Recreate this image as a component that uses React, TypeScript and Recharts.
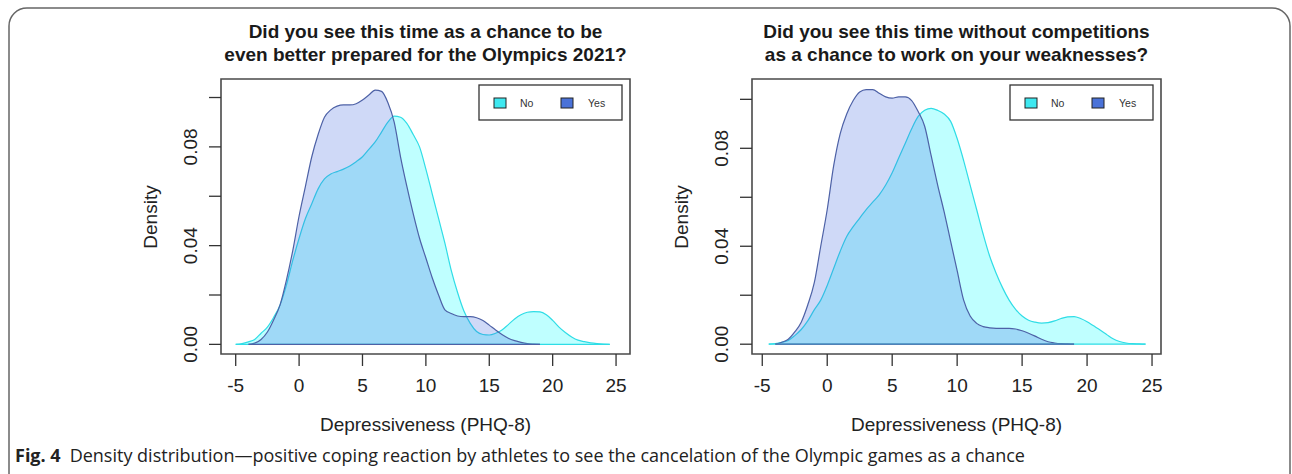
import React from "react";
import { AreaChart, Area, XAxis, YAxis, ReferenceArea, ReferenceLine } from "recharts";

const FONT = '"Liberation Sans", Arial, Helvetica, sans-serif';

// PHQ-8 grid the density curves were read on
const phq = [
  -5, -4.5, -4, -3.5, -3, -2.5, -2, -1.5, -1, -0.5,
  0, 0.5, 1, 1.5, 2, 2.5, 3, 3.5, 4, 4.5,
  5, 5.5, 6, 6.5, 7, 7.5, 8, 8.5, 9, 9.5,
  10, 10.5, 11, 11.5, 12, 12.5, 13, 13.5, 14, 14.5,
  15, 15.5, 16, 16.5, 17, 17.5, 18, 18.5, 19, 19.5,
  20, 20.5, 21, 21.5, 22, 22.5, 23, 23.5, 24, 24.5,
  25,
];

// left panel: "better prepared for the Olympics 2021?"
const preparedNo = [
  0, 0.0003, 0.001, 0.002, 0.0045, 0.007, 0.011, 0.016, 0.024, 0.034,
  0.043, 0.051, 0.057, 0.063, 0.067, 0.069, 0.07, 0.071, 0.0723, 0.074,
  0.076, 0.079, 0.082, 0.086, 0.09, 0.0925, 0.092, 0.0895, 0.085, 0.08,
  0.071, 0.061, 0.051, 0.041, 0.03, 0.021, 0.0135, 0.0085, 0.0052, 0.004,
  0.0038, 0.0045, 0.0058, 0.008, 0.0103, 0.012, 0.013, 0.0133, 0.0132, 0.012,
  0.0097, 0.007, 0.0048, 0.003, 0.0017, 0.0011, 0.0006, 0.0003, 0.0001, 0,
  null,
];
const preparedYes = [
  null, null, 0, 0.0005, 0.002, 0.005, 0.01, 0.016, 0.026, 0.038,
  0.052, 0.064, 0.076, 0.085, 0.092, 0.095, 0.0965, 0.097, 0.097, 0.0975,
  0.099, 0.101, 0.103, 0.1025, 0.098, 0.09, 0.076, 0.064, 0.053, 0.043,
  0.035, 0.027, 0.02, 0.014, 0.0125, 0.0115, 0.0112, 0.0112, 0.0108, 0.0097,
  0.0078, 0.0058, 0.004, 0.0025, 0.0015, 0.0008, 0.0003, 0.0001, 0, null,
  null, null, null, null, null, null, null, null, null, null,
  null,
];

// right panel: "work on your weaknesses?"
const weaknessNo = [
  null, 0, 0.0003, 0.0008, 0.0015, 0.0035, 0.006, 0.0095, 0.014, 0.018,
  0.024, 0.031, 0.038, 0.044, 0.048, 0.0515, 0.055, 0.058, 0.061, 0.065,
  0.07, 0.076, 0.082, 0.088, 0.093, 0.0955, 0.0963, 0.0955, 0.094, 0.091,
  0.084, 0.075, 0.065, 0.055, 0.045, 0.036, 0.029, 0.023, 0.018, 0.0142,
  0.0115, 0.0098, 0.009, 0.0086, 0.0088, 0.0095, 0.0105, 0.0112, 0.0113, 0.0105,
  0.0092, 0.0075, 0.0058, 0.004, 0.0022, 0.0011, 0.0005, 0.0002, 0.0001, 0,
  null,
];
const weaknessYes = [
  null, null, 0, 0.0008, 0.002, 0.005, 0.009, 0.016, 0.025, 0.04,
  0.055, 0.073, 0.086, 0.094, 0.0995, 0.103, 0.104, 0.104, 0.1025, 0.101,
  0.1005, 0.101, 0.101, 0.0995, 0.095, 0.089, 0.077, 0.065, 0.054, 0.042,
  0.03, 0.018, 0.0115, 0.0085, 0.0072, 0.0067, 0.0065, 0.0065, 0.0065, 0.0062,
  0.0055, 0.0045, 0.0033, 0.002, 0.001, 0.0005, 0.0002, 0.0001, 0, null,
  null, null, null, null, null, null, null, null, null, null,
  null,
];

const xTicks = [-5, 0, 5, 10, 15, 20, 25];
const yTicks = [0, 0.02, 0.04, 0.06, 0.08, 0.1];
const yLabelled = ["0.00", "0.04", "0.08"];

const NO_FILL = "#00ffff";
const NO_LINE = "#2fdde6";
const YES_FILL = "#4169e1";
const YES_LINE = "#4d61a6";

function extent(series: (number | null)[]) {
  const idx = series.map((v, i) => (v === null ? -1 : i)).filter((i) => i >= 0);
  return [phq[idx[0]], phq[idx[idx.length - 1]]];
}

function DensityTick(props: any) {
  const { x, y, payload } = props;
  const label = payload.value.toFixed(2);
  if (!yLabelled.includes(label)) return null;
  return (
    <text
      x={x - 10}
      y={y}
      transform={`rotate(-90, ${x - 10}, ${y})`}
      textAnchor="middle"
      fontSize={19}
      fontFamily={FONT}
      fill="#222"
    >
      {label}
    </text>
  );
}

interface PanelProps {
  left: number;
  title: string[];
  no: (number | null)[];
  yes: (number | null)[];
  xDomain: [number, number];
  yDomain: [number, number];
  marginLeft: number;
  marginRight: number;
}

function Panel({ left, title, no, yes, xDomain, yDomain, marginLeft, marginRight }: PanelProps) {
  const data = phq.map((x, i) => ({ x, no: no[i], yes: yes[i] }));
  const noExt = extent(no);
  const yesExt = extent(yes);
  const plotLeft = marginLeft + 60;
  const plotRight = 646 - marginRight;
  const cx = (plotLeft + plotRight) / 2;
  const lx = plotRight - 151;

  return (
    <div style={{ position: "absolute", left, top: 0, width: 646, height: 474 }}>
      <AreaChart
        width={646}
        height={474}
        data={data}
        margin={{ top: 79, right: marginRight, bottom: 80, left: marginLeft }}
      >
        <XAxis
          dataKey="x"
          type="number"
          domain={xDomain}
          ticks={xTicks}
          interval={0}
          allowDataOverflow
          height={40}
          tickSize={12}
          tickMargin={13}
          axisLine={false}
          tickLine={{ stroke: "#333", strokeWidth: 1.3 }}
          tick={{ fontSize: 19, fill: "#222", fontFamily: FONT }}
        />
        <YAxis
          type="number"
          domain={yDomain}
          ticks={yTicks}
          interval={0}
          allowDataOverflow
          width={60}
          tickSize={12}
          axisLine={false}
          tickLine={{ stroke: "#333", strokeWidth: 1.3 }}
          tick={<DensityTick />}
        />
        <Area
          type="monotone"
          dataKey="no"
          baseValue={0}
          fill={NO_FILL}
          fillOpacity={0.25}
          stroke={NO_LINE}
          strokeWidth={1.2}
          isAnimationActive={false}
        />
        <Area
          type="monotone"
          dataKey="yes"
          baseValue={0}
          fill={YES_FILL}
          fillOpacity={0.25}
          stroke={YES_LINE}
          strokeWidth={1.2}
          isAnimationActive={false}
        />
        <ReferenceLine
          segment={[{ x: noExt[0], y: 0 }, { x: noExt[1], y: 0 }]}
          stroke={NO_LINE}
          strokeWidth={1.2}
        />
        <ReferenceLine
          segment={[{ x: yesExt[0], y: 0 }, { x: yesExt[1], y: 0 }]}
          stroke={YES_LINE}
          strokeWidth={1.2}
        />
        <ReferenceArea
          x1={xDomain[0]}
          x2={xDomain[1]}
          y1={yDomain[0]}
          y2={yDomain[1]}
          fill="none"
          stroke="#4a4a4a"
          strokeWidth={1.6}
          ifOverflow="visible"
        />
      </AreaChart>
      <svg
        width={646}
        height={474}
        style={{ position: "absolute", left: 0, top: 0, pointerEvents: "none" }}
        fontFamily={FONT}
      >
        {title.map((line, i) => (
          <text key={i} x={cx} y={38 + i * 23} textAnchor="middle" fontSize={19} fontWeight="bold" fill="#1a1a1a">
            {line}
          </text>
        ))}
        <text x={cx} y={431} textAnchor="middle" fontSize={19} fill="#222">
          Depressiveness (PHQ-8)
        </text>
        <text
          x={plotLeft - 64}
          y={217}
          transform={`rotate(-90, ${plotLeft - 64}, 217)`}
          textAnchor="middle"
          fontSize={19}
          fill="#222"
        >
          Density
        </text>
        <rect x={lx} y={85} width={143} height={35} fill="#fff" stroke="#333" strokeWidth={1.3} />
        <rect x={lx + 15} y={98} width={12} height={10} fill="#3fe8f0" stroke="#222" strokeWidth={1} />
        <text x={lx + 41} y={107} fontSize={10.5} fill="#333">No</text>
        <rect x={lx + 82} y={98} width={12} height={10} fill="#4a72d8" stroke="#222" strokeWidth={1} />
        <text x={lx + 109} y={107} fontSize={10.5} fill="#333">Yes</text>
      </svg>
    </div>
  );
}

export default function App() {
  return (
    <div
      style={{
        position: "absolute",
        left: 0,
        top: 0,
        width: 1292,
        height: 474,
        background: "#fff",
        overflow: "hidden",
      }}
    >
      <svg width={1292} height={474} style={{ position: "absolute", left: 0, top: 0 }}>
        <rect x={9} y={8} width={1281} height={540} rx={18} fill="none" stroke="#666" strokeWidth={1.5} />
        <text x={15} y={462} fontFamily='"Open Sans", "Noto Sans", sans-serif' fontSize={18} fill="#222">
          <tspan fontWeight="bold">Fig. 4</tspan>
          <tspan dx={9}>Density distribution—positive coping reaction by athletes to see the cancelation of the Olympic games as a chance</tspan>
        </text>
      </svg>
      <Panel
        left={0}
        title={["Did you see this time as a chance to be", "even better prepared for the Olympics 2021?"]}
        no={preparedNo}
        yes={preparedYes}
        xDomain={[-6.16, 26.1]}
        yDomain={[-0.0039, 0.1075]}
        marginLeft={161}
        marginRight={16}
      />
      <Panel
        left={646}
        title={["Did you see this time without competitions", "as a chance to work on your weaknesses?"]}
        no={weaknessNo}
        yes={weaknessYes}
        xDomain={[-5.79, 25.69]}
        yDomain={[-0.004, 0.1083]}
        marginLeft={46}
        marginRight={131}
      />
    </div>
  );
}
